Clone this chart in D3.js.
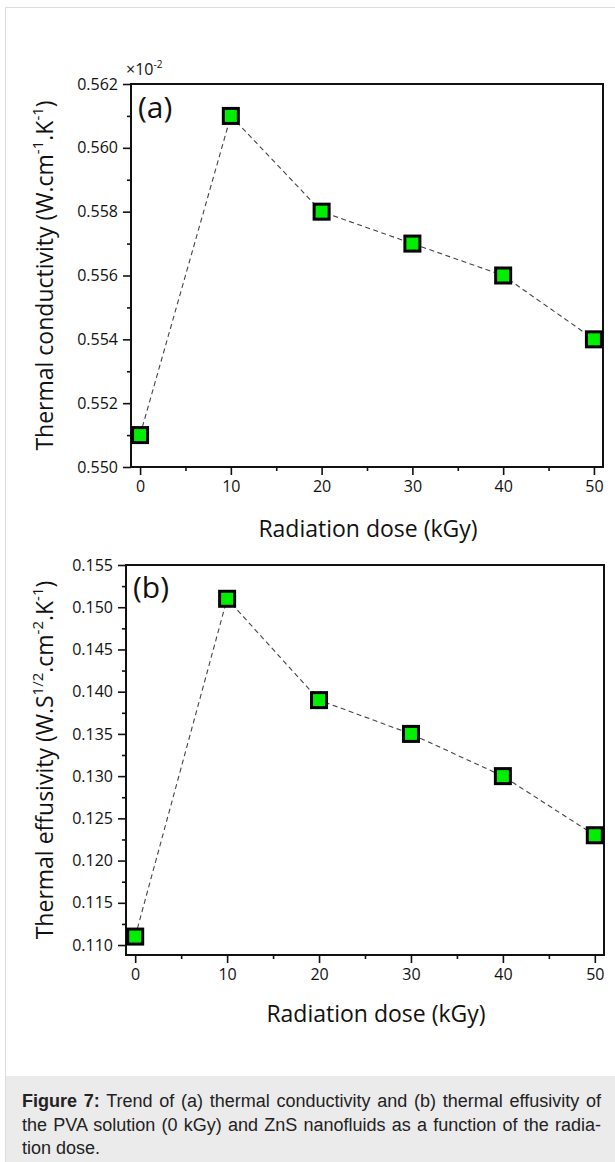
<!DOCTYPE html>
<html>
<head>
<meta charset="utf-8">
<script src="https://cdn.jsdelivr.net/npm/d3@7"></script>
<style>
  body { margin: 0; background: #fff; }
  svg { display: block; }
</style>
</head>
<body>
<svg id="fig" width="615" height="1162"></svg>
<script>
/* global d3 */

const doses = [0, 10, 20, 30, 40, 50];
const conductivity = [0.551, 0.561, 0.558, 0.557, 0.556, 0.554];
const effusivity = [0.111, 0.151, 0.139, 0.135, 0.130, 0.123];

const doseTicks = [0, 10, 20, 30, 40, 50];
const doseMinorTicks = [5, 15, 25, 35, 45];
const condTicks = [0.550, 0.552, 0.554, 0.556, 0.558, 0.560, 0.562];
const condMinorTicks = [0.551, 0.553, 0.555, 0.557, 0.559, 0.561];
const effTicks = [0.110, 0.115, 0.120, 0.125, 0.130, 0.135, 0.140, 0.145, 0.150, 0.155];
const effMinorTicks = [0.1125, 0.1175, 0.1225, 0.1275, 0.1325, 0.1375, 0.1425, 0.1475, 0.1525];

const captionLines = [
  ['Figure 7:', ' Trend of (a) thermal conductivity and (b) thermal effusivity of'],
  ['', 'the PVA solution (0 kGy) and ZnS nanofluids as a function of the radia-'],
  ['', 'tion dose.'],
];

const chartFont = '"Open Sans", sans-serif';
const svg = d3.select('#fig');

// page frame and caption box
svg.append('rect')
  .attr('x', 5.5).attr('y', 7.5)
  .attr('width', 620).attr('height', 1170)
  .attr('fill', '#fff')
  .attr('stroke', '#dcdcdc');

svg.append('rect')
  .attr('x', 6).attr('y', 1076)
  .attr('width', 609).attr('height', 86)
  .attr('fill', '#ebebeb');

function drawPanel(cfg) {
  const g = svg.append('g');
  const x = d3.scaleLinear().domain([-1, 51]).range([cfg.left, cfg.right]);
  const y = d3.scaleLinear().domain(cfg.yDomain).range([cfg.bottom, cfg.top]);

  const xMajor = g.append('g')
    .attr('transform', `translate(0,${cfg.bottom})`)
    .call(d3.axisBottom(x).tickValues(doseTicks).tickSize(8).tickPadding(6));
  g.append('g')
    .attr('transform', `translate(0,${cfg.bottom})`)
    .call(d3.axisBottom(x).tickValues(doseMinorTicks).tickSize(4).tickFormat(''));

  const yMajor = g.append('g')
    .attr('transform', `translate(${cfg.left},0)`)
    .call(d3.axisLeft(y).tickValues(cfg.ticks).tickSize(8).tickPadding(5)
      .tickFormat(d3.format('.3f')));
  g.append('g')
    .attr('transform', `translate(${cfg.left},0)`)
    .call(d3.axisLeft(y).tickValues(cfg.minorTicks).tickSize(4).tickFormat(''));

  g.selectAll('.domain').remove();
  g.selectAll('.tick line').attr('stroke', '#111').attr('stroke-width', 1.6);
  [xMajor, yMajor].forEach((a) => {
    a.selectAll('text')
      .attr('font-family', chartFont)
      .attr('font-size', 16)
      .attr('fill', '#111');
  });

  g.append('rect')
    .attr('x', cfg.left).attr('y', cfg.top)
    .attr('width', cfg.right - cfg.left).attr('height', cfg.bottom - cfg.top)
    .attr('fill', 'none')
    .attr('stroke', '#111')
    .attr('stroke-width', 2);

  const line = d3.line()
    .x((d, i) => x(doses[i]))
    .y(d => y(d));

  g.append('path')
    .datum(cfg.values)
    .attr('d', line)
    .attr('fill', 'none')
    .attr('stroke', '#444')
    .attr('stroke-width', 1.1)
    .attr('stroke-dasharray', '5,3.5');

  g.selectAll('.marker')
    .data(cfg.values)
    .enter()
    .append('rect')
    .attr('class', 'marker')
    .attr('x', (d, i) => x(doses[i]) - 7.5)
    .attr('y', d => y(d) - 7.5)
    .attr('width', 15)
    .attr('height', 15)
    .attr('fill', '#00ee00')
    .attr('stroke', '#000')
    .attr('stroke-width', 3);

  // panel letter
  g.append('text')
    .attr('x', cfg.left + 7)
    .attr('y', cfg.top + cfg.letterDy)
    .attr('font-family', chartFont)
    .attr('font-size', 30)
    .attr('fill', '#111')
    .text(cfg.letter);

  // x title
  g.append('text')
    .attr('x', cfg.xTitleX)
    .attr('y', cfg.bottom + cfg.xTitleDy)
    .attr('text-anchor', 'middle')
    .attr('font-family', chartFont)
    .attr('font-size', 23)
    .attr('fill', '#111')
    .text('Radiation dose (kGy)');

  // y title with superscripts
  const yt = g.append('text')
    .attr('transform', `translate(53,${(cfg.top + cfg.bottom) / 2}) rotate(-90)`)
    .attr('text-anchor', 'middle')
    .attr('font-family', chartFont)
    .attr('font-size', 23)
    .attr('fill', '#111');
  cfg.yTitle.forEach(([txt, sup]) => {
    yt.append('tspan')
      .attr('baseline-shift', sup ? '70%' : '0')
      .attr('font-size', sup ? 15 : 23)
      .text(txt);
  });
}

drawPanel({
  left: 131, right: 603, top: 84, bottom: 467,
  yDomain: [0.550, 0.562],
  ticks: condTicks, minorTicks: condMinorTicks,
  values: conductivity,
  letter: '(a)', letterDy: 34,
  xTitleX: 368, xTitleDy: 70,
  yTitle: [['Thermal conductivity (W.cm', false], ['-1', true], ['.K', false], ['-1', true], [')', false]],
});

drawPanel({
  left: 126, right: 604, top: 565, bottom: 955,
  yDomain: [0.10882, 0.155],
  ticks: effTicks, minorTicks: effMinorTicks,
  values: effusivity,
  letter: '(b)', letterDy: 33,
  xTitleX: 376, xTitleDy: 67,
  yTitle: [['Thermal effusivity (W.S', false], ['1/2', true], ['.cm', false], ['-2', true], ['.K', false], ['-1', true], [')', false]],
});

// multiplier label of panel (a)
const mult = svg.append('text')
  .attr('x', 126).attr('y', 75)
  .attr('font-family', chartFont)
  .attr('font-size', 16)
  .attr('fill', '#111');
mult.append('tspan').text('\u00d710');
mult.append('tspan').attr('baseline-shift', '70%').attr('font-size', 10).text('-2');

// caption, justified by hand
const captionRight = 601;
captionLines.forEach(([bold, rest], i) => {
  const t = svg.append('text')
    .attr('x', 22)
    .attr('y', 1107 + i * 23.5)
    .attr('font-family', '"Liberation Sans", Arial, sans-serif')
    .attr('font-size', 18)
    .attr('fill', '#222');
  if (bold) {
    t.append('tspan').attr('font-weight', 'bold').text(bold);
  }
  t.append('tspan').text(rest);
  if (i < captionLines.length - 1) {
    const natural = t.node().getComputedTextLength();
    const spaces = (bold + rest).split(' ').length - 1;
    t.attr('word-spacing', (captionRight - 22 - natural) / spaces);
  }
});
</script>
</body>
</html>
